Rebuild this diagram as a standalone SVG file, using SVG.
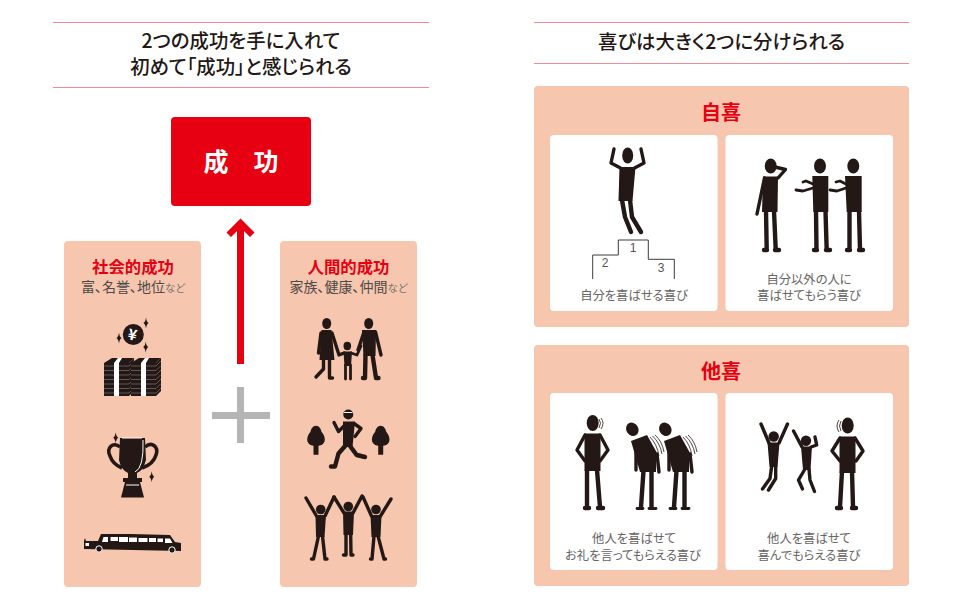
<svg xmlns="http://www.w3.org/2000/svg" xmlns:xlink="http://www.w3.org/1999/xlink" width="970" height="600" viewBox="0 0 970 600">
<style>
text{font-family:"Noto Sans CJK JP","Liberation Sans",sans-serif;text-anchor:middle;font-feature-settings:"palt"}
.title{font-size:19.4px;font-weight:500;fill:#231815}
.cap{font-size:12.3px;fill:#666464}
.head2{font-size:20px;font-weight:700;fill:#e60012}
.head3{font-size:16.4px;font-weight:700;fill:#e60012}
.sub{font-size:14px;fill:#4c4948}
.sub tspan{font-size:10.5px;fill:#77726f}
.num{font-family:"Liberation Sans",sans-serif;font-size:12px;fill:#555}
.rule{stroke:#ef8a97;stroke-width:1;fill:none}
.panel{fill:#f7c6ae}
.card{fill:#fff}
.k{fill:#231815}
.l{fill:none;stroke:#231815;stroke-linecap:round;stroke-linejoin:round;stroke-width:4.4}
.a{stroke-width:3.4}
.t{stroke-width:2.8}
.w{fill:none;stroke:#fff;stroke-width:1}
.g{fill:none;stroke:#8a8785;stroke-width:.6}
</style>
<defs>
<path id="spark" d="M0-5.500Q.6-1 2.600 0Q.6 1 0 5.500Q-.6 1-2.600 0Q-.6-1 0-5.500Z"/>
<path id="tree" d="M0 0C3 0 5 3 5.500 6C8 9 9.500 12 8.500 16C7 19 4 20 2.500 20L2.500 29L-2.500 29L-2.500 20C-4 20-7 19-8.500 16C-9.500 12-8 9-5.500 6C-5 3-3 0 0 0Z"/>
<g id="bills">
<path class="k" d="M0 5L8 0H30L25 5V38H0Z"/>
<path class="k" d="M25 5L30 0V33L25 38Z"/>
<path class="g" d="M0 8H25L30 3M0 12.500H25L30 7.500M0 17H25L30 12M0 21.500H25L30 16.500M0 26H25L30 21M0 30.500H25L30 25.500M0 35H25L30 30"/>
<path fill="#fff" d="M10 5L14 0H18L15 5V38H10Z"/>
</g>
<g id="bow">
<ellipse class="k" cx="632.300" cy="429.300" rx="6" ry="7" transform="rotate(-30 632.300 429.300)"/>
<path class="k" d="M631 441L647 435L656.500 452L656 472H640Z"/>
<path class="l" d="M643.500 471L641 507M651.500 471L651.500 507"/>
<path class="l a" d="M636 446L636 470"/>
<path class="l a" d="M657 454L659 472"/>
<path class="l t" d="M637 508.500H643M649 508.500H656"/>
<path fill="none" stroke="#231815" stroke-width=".8" d="M650 437Q657 444 659 456M652.500 436Q660 443 662 454M655 435Q662 441 664 452"/>
</g>
</defs>

<g id="title-left">
<path class="rule" d="M53 22.500H429M53 87.500H429"/>
<text class="title" x="241" y="47.500">2つの成功を手に入れて</text>
<text class="title" x="241" y="74">初めて「成功」と感じられる</text>
</g>
<g id="title-right">
<path class="rule" d="M534 22.500H909M534 63.500H909"/>
<text class="title" x="721.500" y="49">喜びは大きく2つに分けられる</text>
</g>

<g id="success">
<rect x="171" y="117" width="140" height="89" rx="4" fill="#e60012"/>
<text x="241" y="171" font-size="25" font-weight="700" fill="#fff" style="font-feature-settings:normal">成　功</text>
</g>

<g id="connectors">
<path fill="#e60012" d="M240.500 218.500L254.500 232.500L250 237L244 231V364H237V231L231 237L226.500 232.500Z"/>
<path fill="#b5b5b5" d="M237 387H244V412H270V419H244V443H237V419H212V412H237Z"/>
</g>

<g id="social">
<rect class="panel" x="64" y="241" width="137" height="346" rx="4"/>
<text class="head3" x="133" y="273">社会的成功</text>
<text class="sub" x="133" y="292">富、名誉、地位<tspan>など</tspan></text>
<circle class="k" cx="133.300" cy="334.500" r="10.500"/>
<text x="132.500" y="340" font-size="15" font-weight="700" fill="#fff" font-family="Liberation Sans" transform="rotate(12 132.500 334)">¥</text>
<use class="k" xlink:href="#spark" x="146" y="323"/>
<use class="k" xlink:href="#spark" x="119" y="338"/>
<use class="k" xlink:href="#spark" x="145.700" y="347"/>
<use xlink:href="#bills" x="104" y="358"/>
<use xlink:href="#bills" x="131" y="358"/>
<path class="k" d="M120 438H145L146 460Q143 471 137 473V478H142V482H123V478H128V473Q121 470 119 460Z"/>
<path fill="none" stroke="#231815" stroke-width="3.600" d="M120 447C113 441 106 448 110 456C112 462 117 466 122 468M145 447C152 441 159 447 156 455C154 462 148 466 142 468"/>
<path class="k" d="M125 482H140L144 497.500H121Z"/>
<path class="w" d="M126 485H139M143 440Q144 468 135 472M122 438H142"/>
<use class="k" xlink:href="#spark" x="115.700" y="437.700"/>
<use class="k" xlink:href="#spark" x="151.700" y="476.700"/>
<path class="k" d="M84 548V541L85 538L86 541H98L101 534H130L170 535L175 542L181 543V551L84 549Z"/>
<path fill="#fff" d="M102 542L103.500 537H108V542ZM110.500 537H118V541H110.500ZM119 537H128V542H119ZM129 537.500H137V542H129ZM138.500 538H147.500V542H138.500ZM149 538H156V542H149ZM157.500 538.500H163V542H157.500ZM165 538.500H170L172.500 543H165ZM85.500 543H89V546H85.500Z"/>
<circle class="k" cx="99" cy="549" r="3.200" stroke="#fff" stroke-width="1"/>
<circle class="k" cx="172" cy="550" r="3.200" stroke="#fff" stroke-width="1"/>
</g>

<g id="human">
<rect class="panel" x="280" y="241" width="137" height="346" rx="4"/>
<text class="head3" x="348.500" y="273">人間的成功</text>
<text class="sub" x="348.500" y="292">家族、健康、仲間<tspan>など</tspan></text>
<g id="family">
<ellipse class="k" cx="326.700" cy="323.500" rx="4.500" ry="5.500"/>
<path class="k" d="M321.500 330H331.500L334.500 360H319.500Z"/>
<path class="l a" d="M323.500 359V369L316 377M329.500 359V378M329.500 378H332.500M321 333L318.500 353M332 333L339 355L344 353"/>
<ellipse class="k" cx="347.300" cy="346" rx="3.800" ry="4.200"/>
<path class="k" d="M343.500 351.500H352L351 366H344.500Z"/>
<path class="l t" d="M345.500 365V379M350.500 365V379M351 353L357 355L361 346"/>
<ellipse class="k" cx="368.700" cy="323.500" rx="4.500" ry="5.500"/>
<path class="k" d="M362 330H376L375.500 356H363.500Z"/>
<path class="l" d="M365.500 355L365 378M372.500 355L376 378M376 378H378.500M365 378H363"/>
<path class="l a" d="M364 332L358 350M375.500 332L381 355"/>
</g>
<g id="runner">
<use class="k" xlink:href="#tree" x="316" y="425.700"/>
<use class="k" xlink:href="#tree" x="380.700" y="425.700"/>
<circle class="k" cx="348.300" cy="414.500" r="5"/>
<path class="w" d="M344 412.500H352.500"/>
<path class="k" d="M343 421.500H355L352.500 447H343Z"/>
<path class="l a" d="M345 425L338.500 431.500L334 422.500M354 423.500L361 428.500L355 436.500"/>
<path class="l" d="M346 445L338.500 453.500L335 466.500L331 466.500M350 446L356.700 455L365 457"/>
</g>
<g id="cheer">
<circle class="k" cx="320.700" cy="509.500" r="4.800"/>
<path class="k" d="M315.500 515H326L324.500 537H316Z"/>
<path class="l a" d="M316.500 516L306 498M325 516L334 497M318.500 536L313.500 559H311.500M322.500 536L325 559H327"/>
<circle class="k" cx="348.300" cy="506.500" r="4.800"/>
<path class="k" d="M343 511.500H354L353 535H343.500Z"/>
<path class="l a" d="M344 513L334 497M353 513L362 496M346 535V555H343.500M350.700 535L351 555H353"/>
<circle class="k" cx="376" cy="509.500" r="4.800"/>
<path class="k" d="M370.500 515H381.500L380.500 537H371.500Z"/>
<path class="l a" d="M371.500 516L363 497M380.500 516L391 499M374 536L372 559H370.500M378 536L384 559H385.500"/>
</g>
</g>

<g id="jiki">
<rect class="panel" x="534" y="86" width="375" height="241" rx="4"/>
<text class="head2" x="721" y="120">自喜</text>
</g>
<g id="jiki-self">
<rect class="card" x="550" y="135" width="167.500" height="176" rx="4"/>
<ellipse class="k" cx="627.700" cy="155.500" rx="5.500" ry="8"/>
<path class="k" d="M619.500 167H635.500L632.500 201H618.500Z"/>
<path class="l a" d="M620.500 168L611 163L614 149M634.500 168L644 163L641 149"/>
<path class="l" d="M622 200L625 217L631 232M630 200L632 217L641 232"/>
<path fill="none" stroke="#3e3a39" stroke-width="1" d="M592.700 279V255H618.300V240H648.300V259.300H674.300V279"/>
<text class="num" x="633" y="252">1</text>
<text class="num" x="605" y="267">2</text>
<text class="num" x="661" y="272">3</text>
<text class="cap" x="634" y="300">自分を喜ばせる喜び</text>
</g>
<g id="jiki-others">
<rect class="card" x="725.500" y="135" width="167.500" height="176" rx="4"/>
<ellipse class="k" cx="770.700" cy="166" rx="6" ry="7.500"/>
<path class="l a" d="M775 167L785.500 169.500L778 178"/>
<path class="k" d="M763 176.500H778L777.500 212H762Z"/>
<path class="l a" d="M764.500 178L757 214"/>
<path class="l" d="M766 211L766.700 249M774 211L775.700 249M764 250H767M775 250H779"/>
<ellipse class="k" cx="820" cy="166" rx="6" ry="7.500"/>
<path class="k" d="M812.300 176H828.300V212H813.300Z"/>
<path class="l" d="M816 211L816.500 250M825.500 211L826.700 250M814 250H817M826 250H830"/>
<path class="l t" d="M813 188L803 191L796 190M813 184L806 181L803 182"/>
<ellipse class="k" cx="853.300" cy="166" rx="6" ry="7.500"/>
<path class="k" d="M845 176H861.700V212H846.700Z"/>
<path class="l" d="M849.500 211L849.500 250M859 211L860 250M847 250H850M859 250H863"/>
<path class="l t" d="M846 188L837 191L830 190M846 184L840 181L836 182"/>
<text class="cap" x="809" y="283.500">自分以外の人に</text>
<text class="cap" x="809" y="300">喜ばせてもらう喜び</text>
</g>

<g id="taki">
<rect class="panel" x="534" y="345" width="375" height="241" rx="4"/>
<text class="head2" x="721" y="379">他喜</text>
</g>
<g id="taki-thanks">
<rect class="card" x="550" y="393" width="167.500" height="177" rx="4"/>
<ellipse class="k" cx="592.700" cy="423" rx="6" ry="8"/>
<path fill="none" stroke="#231815" stroke-width=".8" d="M599 419Q602 423 599 428M601 418Q605 423 601 429"/>
<path class="k" d="M584.500 433.500H600.500V471H584.500Z"/>
<path class="l a" d="M585 435L577 450L585 461M600 435L608 450L600 461"/>
<path class="l" d="M587 470V507M597 470L600 507M585 508H589M598 508H603"/>
<use xlink:href="#bow"/>
<use xlink:href="#bow" x="33"/>
<text class="cap" x="634" y="543">他人を喜ばせて</text>
<text class="cap" x="633" y="559.500">お礼を言ってもらえる喜び</text>
</g>
<g id="taki-joy">
<rect class="card" x="725.500" y="393" width="167.500" height="177" rx="4"/>
<circle class="k" cx="773.700" cy="436.500" r="5.200"/>
<path class="k" d="M767.500 442.500H779.500L777.500 467H769.500Z"/>
<path class="l a" d="M769 443L761 424M779 443L787.500 424M771.700 466L770 478.500L762.500 489M775.700 466L775.700 478.500L768.500 490"/>
<circle class="k" cx="806" cy="440.700" r="5.200"/>
<path class="k" d="M801 446.500H812L810.500 470H803Z"/>
<path class="l a" d="M802 447L793.500 431M811 447L816.700 445L815 437M805 469L798.500 480L802.500 489M809 469L810 480L814.500 491.500"/>
<ellipse class="k" cx="847.700" cy="425.500" rx="6" ry="8"/>
<path fill="none" stroke="#231815" stroke-width=".8" d="M841 421Q838 426 841 431M839 420Q835 426 839 432"/>
<path class="k" d="M839.500 436.500H855.500V473H839.500Z"/>
<path class="l a" d="M840 438L832 451L840 461M855 438L863 451L856 461"/>
<path class="l" d="M842 471L840 507M852 471L853 507M837 508H841M852 508H856"/>
<text class="cap" x="809" y="543">他人を喜ばせて</text>
<text class="cap" x="809" y="559.500">喜んでもらえる喜び</text>
</g>
</svg>
